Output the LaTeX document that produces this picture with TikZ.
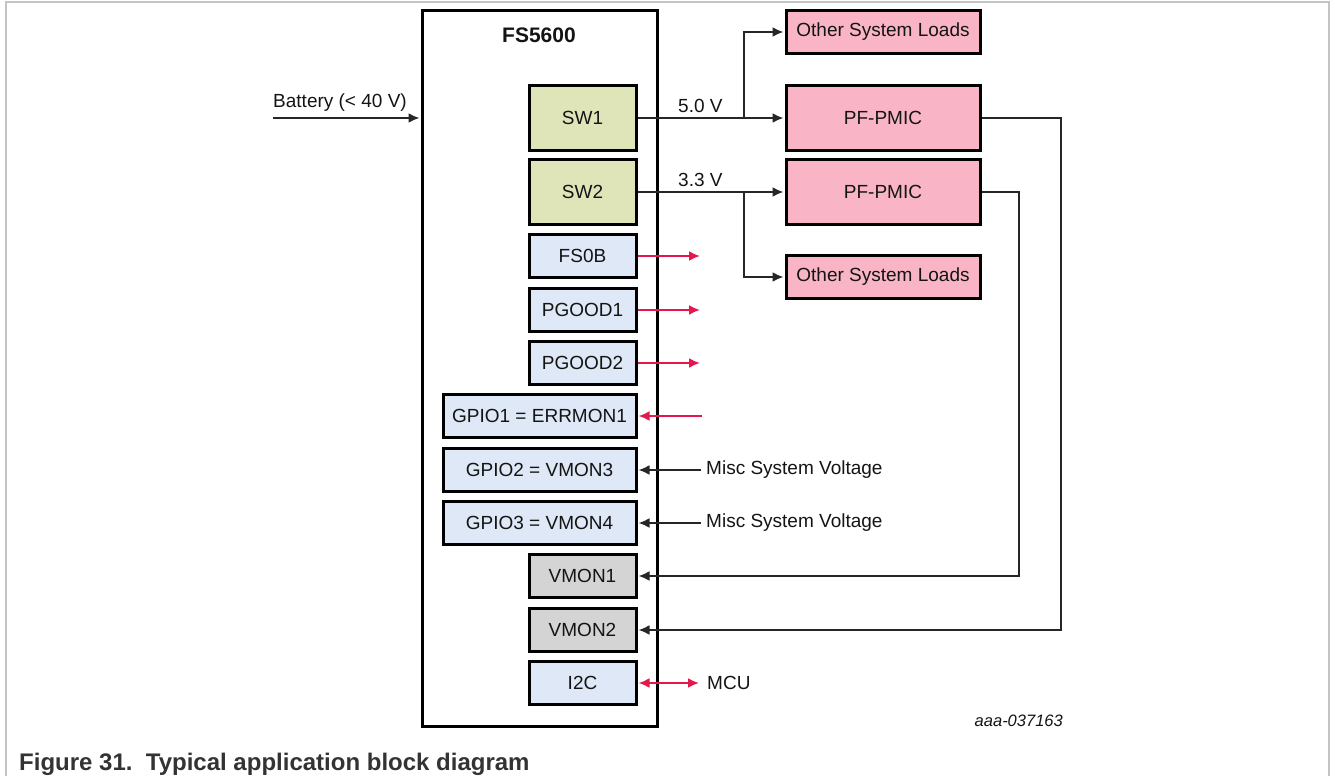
\documentclass[tikz,border=0pt]{standalone}
\usepackage{fontspec}
\setmainfont{Liberation Sans}
\usetikzlibrary{arrows.meta}
\definecolor{swgreen}{HTML}{E0E5B9}
\definecolor{pinkbox}{HTML}{F9B5C5}
\definecolor{graybox}{HTML}{D4D4D4}
\definecolor{bluebox}{HTML}{DEE8F6}
\definecolor{redline}{HTML}{E4184C}
\definecolor{framegray}{HTML}{C4C4C4}
\tikzset{
  txt/.style={font=\fontsize{19}{22}\selectfont, text=black!92},
  blk/.style={txt, draw=black, line width=3pt, minimum width=107pt, inner sep=0pt, anchor=center},
  swbox/.style={blk, fill=swgreen, minimum height=65pt},
  pinbox/.style={blk, fill=bluebox, minimum height=43pt},
  widebox/.style={pinbox, minimum width=193pt},
  vmonbox/.style={blk, fill=graybox, minimum height=43pt},
  pmicbox/.style={blk, fill=pinkbox, minimum width=194pt, minimum height=65pt},
  loadbox/.style={blk, fill=pinkbox, minimum width=194pt, minimum height=43pt},
  conn/.style={line width=2pt, draw=black!85},
  redconn/.style={line width=2pt, draw=redline},
  tip/.style={-{Latex[length=11pt,width=10pt]}, shorten >=1pt},
  tipboth/.style={{Latex[length=11pt,width=10pt]}-{Latex[length=11pt,width=10pt]}, shorten >=1pt, shorten <=1pt},
  lbl/.style={txt, inner sep=0pt},
}
\begin{document}
\begin{tikzpicture}[x=1pt, y=-1pt]
\useasboundingbox (0,0) rectangle (1335,776);
\draw[framegray, line width=2pt] (6,776) -- (6,2) -- (1329,2) -- (1329,776);

% main chip
\node[draw=black, line width=3pt, minimum width=235pt, minimum height=715pt, inner sep=0pt] (main) at (539.5,368.5) {};
\node[lbl, font=\fontsize{21}{24}\selectfont\bfseries, anchor=base] (title) at (539,43) {FS5600};

% internal blocks
\node[swbox] (sw1) at (582.5,118) {SW1};
\node[swbox] (sw2) at (582.5,192) {SW2};
\node[pinbox] (fs0b) at (582.5,256) {FS0B};
\node[pinbox] (pg1) at (582.5,310) {PGOOD1};
\node[pinbox] (pg2) at (582.5,363) {PGOOD2};
\node[widebox] (gp1) at (539.5,416) {GPIO1 = ERRMON1};
\node[widebox] (gp2) at (539.5,470) {GPIO2 = VMON3};
\node[widebox] (gp3) at (539.5,523) {GPIO3 = VMON4};
\node[vmonbox] (vm1) at (582.5,576) {VMON1};
\node[vmonbox] (vm2) at (582.5,630) {VMON2};
\node[pinbox] (i2c) at (582.5,683) {I2C};

% external blocks
\node[loadbox] (osl1) at (883,32) {Other System Loads};
\node[pmicbox] (pm1) at (883,118) {PF-PMIC};
\node[pmicbox] (pm2) at (883,192) {PF-PMIC};
\node[loadbox] (osl2) at (883,277) {Other System Loads};

% battery
\coordinate (bat) at (273,118);
\node[lbl, anchor=base west] (batl) at (273,107.5) {Battery (< 40 V)};
\draw[conn, tip] (bat) -- (bat -| main.west);

% SW outputs
\node[lbl, anchor=base west] (v50) at (678,112) {5.0 V};
\node[lbl, anchor=base west] (v33) at (678,186) {3.3 V};
\draw[conn, tip] (sw1.east) -- (pm1.west);
\draw[conn, tip] (sw2.east) -- (pm2.west);
\coordinate (j1) at (744,118);
\coordinate (j2) at (744,192);
\draw[conn, tip] (j1) |- (osl1.west);
\draw[conn, tip] (j2) |- (osl2.west);

% PMIC feedback
\coordinate (r1) at (1061,118);
\coordinate (r2) at (1019,192);
\draw[conn, tip] (pm1.east) -- (r1) |- (vm2.east);
\draw[conn, tip] (pm2.east) -- (r2) |- (vm1.east);

% red signals
\coordinate (e1) at (701,256);
\coordinate (e2) at (701,310);
\coordinate (e3) at (701,363);
\coordinate (e4) at (702,416);
\draw[redconn, tip] (fs0b.east) -- (e1);
\draw[redconn, tip] (pg1.east) -- (e2);
\draw[redconn, tip] (pg2.east) -- (e3);
\draw[redconn, tip] (e4) -- (gp1.east);

% misc voltages
\node[lbl, anchor=west, inner xsep=5pt] (misc2) at (701,470) {Misc System Voltage};
\node[lbl, anchor=west, inner xsep=5pt] (misc3) at (701,523) {Misc System Voltage};
\draw[conn, tip] (misc2.west) -- (gp2.east);
\draw[conn, tip] (misc3.west) -- (gp3.east);

% I2C
\node[lbl, anchor=west, inner xsep=7pt] (mcu) at (700,683) {MCU};
\draw[redconn, tipboth] (i2c.east) -- (mcu.west);

% id and caption
\node[lbl, font=\fontsize{16.5}{19}\selectfont\itshape, anchor=base east] (id) at (1063,726) {aaa-037163};
\node[lbl, font=\fontsize{24}{28}\selectfont\bfseries, text=black!80, anchor=base west] (cap) at (19,770) {Figure 31.\ \ Typical application block diagram};
\end{tikzpicture}
\end{document}
